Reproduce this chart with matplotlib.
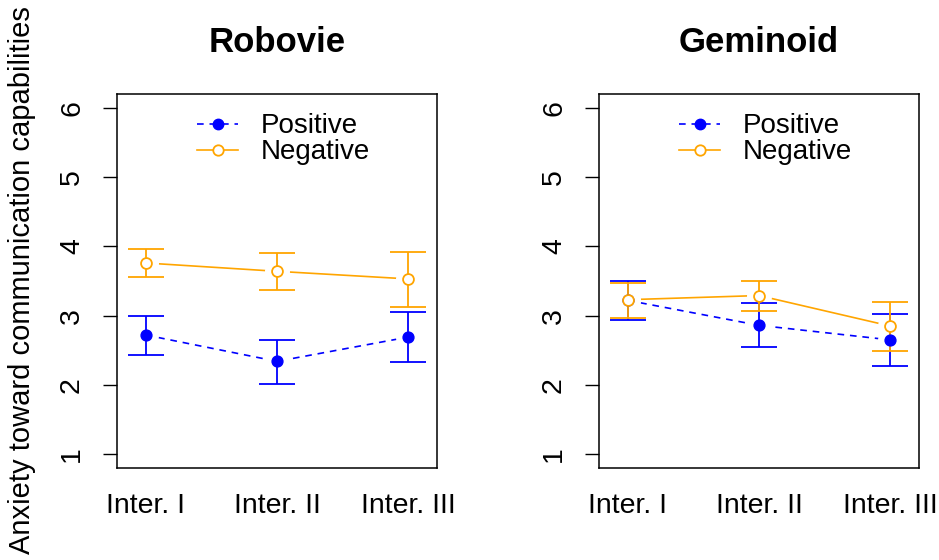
import matplotlib.pyplot as plt
import numpy as np

plt.rcParams['font.family'] = ['Liberation Sans', 'DejaVu Sans']

sessions = ["Inter. I", "Inter. II", "Inter. III"]
titles = ["Robovie", "Geminoid"]

# means and error bar ends (lower, upper) per robot
pos_mean = [[2.72, 2.34, 2.69], [3.22, 2.86, 2.65]]
pos_lo   = [[2.43, 2.01, 2.33], [2.94, 2.55, 2.27]]
pos_hi   = [[2.99, 2.65, 3.05], [3.50, 3.18, 3.02]]
neg_mean = [[3.76, 3.64, 3.53], [3.23, 3.29, 2.85]]
neg_lo   = [[3.56, 3.37, 3.12], [2.97, 3.07, 2.49]]
neg_hi   = [[3.96, 3.91, 3.92], [3.47, 3.50, 3.20]]

blue = "#0000FF"
orange = "#FFA500"

fig = plt.figure(figsize=(9.39, 5.6), dpi=100)
lefts = [117/939, 599/939]
x = np.arange(1, 4)

for k in range(2):
    ax = fig.add_axes([lefts[k], 92/560, 320/939, 374/560])
    pm, nm = np.array(pos_mean[k]), np.array(neg_mean[k])
    perr = [pm - np.array(pos_lo[k]), np.array(pos_hi[k]) - pm]
    nerr = [nm - np.array(neg_lo[k]), np.array(neg_hi[k]) - nm]

    # connecting lines, then white halos to mimic R's type="b" gaps
    ax.plot(x, pm, color=blue, lw=1.2, ls=(0, (4, 3.5)), zorder=1)
    ax.plot(x, nm, color=orange, lw=1.2, zorder=1)
    ax.plot(x, pm, ls='none', marker='o', ms=18, mfc='white', mec='none', zorder=2)
    ax.plot(x, nm, ls='none', marker='o', ms=18, mfc='white', mec='none', zorder=2)

    ax.errorbar(x, pm, yerr=perr, fmt='none', ecolor=blue, elinewidth=1.3,
                capsize=13, capthick=1.3, zorder=3)
    ax.errorbar(x, nm, yerr=nerr, fmt='none', ecolor=orange, elinewidth=1.3,
                capsize=13, capthick=1.3, zorder=3)
    ax.plot(x, pm, ls='none', marker='o', ms=7.8, color=blue, zorder=4)
    ax.plot(x, nm, ls='none', marker='o', ms=7.8, mfc='white', mec=orange,
            mew=1.3, zorder=4)

    # legend proxies
    ax.plot([], [], color=blue, lw=1.2, ls=(0, (4, 3.5)), marker='o', ms=7.5,
            label="Positive")
    ax.plot([], [], color=orange, lw=1.2, marker='o', ms=7.5, mfc='white',
            mew=1.3, label="Negative")
    ax.legend(loc='upper center', bbox_to_anchor=(0.52, 1.0), frameon=False,
              fontsize=20, handlelength=1.5, handletextpad=0.8,
              labelspacing=0.0, borderpad=0.3, borderaxespad=0.4, numpoints=1)

    ax.set_xlim(0.78, 3.22)
    ax.set_ylim(0.8, 6.2)
    ax.set_xticks(x)
    ax.set_xticklabels(sessions, fontsize=20.5)
    ax.set_yticks([1, 2, 3, 4, 5, 6])
    ax.tick_params(axis='x', length=0, pad=18)
    ax.tick_params(axis='y', length=10, width=1, pad=13, labelsize=20.5)
    for lab in ax.get_yticklabels():
        lab.set_rotation(90)
        lab.set_va('center')
    for s in ax.spines.values():
        s.set_linewidth(1.1)
    ax.set_title(titles[k], fontsize=25, fontweight='bold', pad=30)

fig.text(22/939, 0.5, "Anxiety toward communication capabilities", rotation=90,
         ha='center', va='center', fontsize=21)

fig.savefig("out.png", dpi=100)
